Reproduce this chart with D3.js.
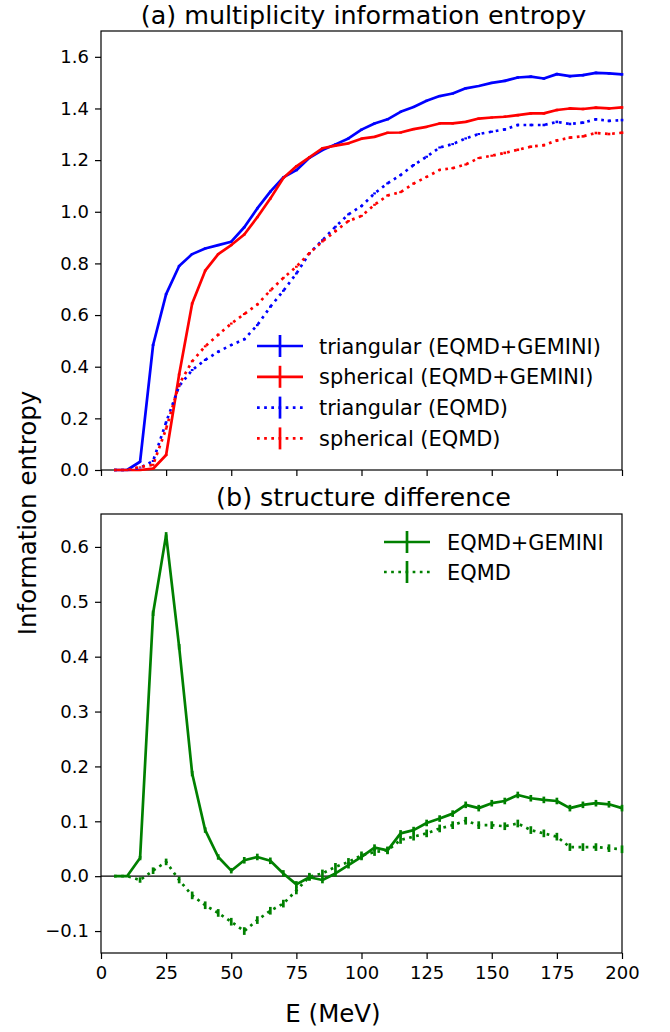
<!DOCTYPE html>
<html>
<head>
<meta charset="utf-8">
<script src="https://cdn.jsdelivr.net/npm/d3@7"></script>
<style>
  body { margin: 0; background: #fff; }
  text { font-family: "DejaVu Sans", sans-serif; fill: #000; }
</style>
</head>
<body>
<svg id="fig" width="670" height="1032"></svg>
<script>
// beam energy (MeV)
const energy = [5, 10, 15, 20, 25, 30, 35, 40, 45, 50, 55, 60, 65, 70, 75, 80, 85, 90, 95, 100,
  105, 110, 115, 120, 125, 130, 135, 140, 145, 150, 155, 160, 165, 170, 175, 180, 185, 190, 195, 200];

// (a) multiplicity information entropy
const triGemini = [0, 0, 0.032, 0.484, 0.681, 0.790, 0.836, 0.858, 0.871, 0.884, 0.940, 1.013, 1.078, 1.133, 1.161, 1.209, 1.239, 1.261, 1.284, 1.318,
  1.342, 1.358, 1.387, 1.406, 1.430, 1.448, 1.458, 1.478, 1.487, 1.499, 1.507, 1.520, 1.523, 1.516, 1.533, 1.525, 1.529, 1.538, 1.536, 1.532];
const sphGemini = [0, 0, 0, 0.005, 0.058, 0.370, 0.645, 0.772, 0.836, 0.871, 0.912, 0.979, 1.051, 1.131, 1.176, 1.211, 1.246, 1.256, 1.265, 1.283,
  1.290, 1.306, 1.307, 1.320, 1.329, 1.342, 1.342, 1.348, 1.361, 1.365, 1.368, 1.374, 1.381, 1.381, 1.394, 1.400, 1.398, 1.403, 1.400, 1.404];
const triEqmd = [0, 0, 0.008, 0.035, 0.185, 0.325, 0.387, 0.426, 0.458, 0.484, 0.506, 0.561, 0.632, 0.694, 0.761, 0.839, 0.890, 0.942, 0.990, 1.022,
  1.071, 1.110, 1.142, 1.181, 1.213, 1.249, 1.262, 1.284, 1.301, 1.310, 1.319, 1.336, 1.336, 1.336, 1.348, 1.340, 1.345, 1.358, 1.352, 1.355];
const sphEqmd = [0, 0, 0.012, 0.020, 0.160, 0.332, 0.421, 0.479, 0.524, 0.567, 0.604, 0.641, 0.695, 0.744, 0.787, 0.840, 0.885, 0.925, 0.964, 0.984,
  1.027, 1.063, 1.076, 1.109, 1.135, 1.162, 1.169, 1.183, 1.208, 1.217, 1.228, 1.240, 1.252, 1.258, 1.276, 1.287, 1.292, 1.305, 1.301, 1.306];
const entropyErr = [0, 0, 0.002, 0.004, 0.004, 0.004, 0.004, 0.004, 0.004, 0.004, 0.004, 0.004, 0.004, 0.004, 0.004, 0.004, 0.004, 0.004, 0.004, 0.004,
  0.004, 0.004, 0.004, 0.004, 0.004, 0.004, 0.004, 0.004, 0.004, 0.004, 0.005, 0.005, 0.005, 0.005, 0.005, 0.005, 0.005, 0.005, 0.005, 0.005];

// (b) structure difference (triangular - spherical)
const diffGemini = [0, 0, 0.033, 0.479, 0.622, 0.418, 0.187, 0.084, 0.035, 0.010, 0.029, 0.035, 0.028, 0.005, -0.015, -0.002, -0.007, 0.005, 0.020, 0.035,
  0.052, 0.047, 0.078, 0.084, 0.097, 0.105, 0.114, 0.130, 0.124, 0.133, 0.137, 0.148, 0.142, 0.139, 0.137, 0.124, 0.130, 0.133, 0.131, 0.124];
const diffEqmd = [0, 0, -0.007, 0.010, 0.026, -0.007, -0.035, -0.053, -0.067, -0.083, -0.100, -0.080, -0.063, -0.050, -0.026, -0.001, 0.005, 0.017, 0.026, 0.038,
  0.044, 0.047, 0.066, 0.072, 0.078, 0.087, 0.093, 0.101, 0.093, 0.093, 0.091, 0.096, 0.084, 0.078, 0.072, 0.053, 0.053, 0.053, 0.051, 0.049];
const diffGeminiErr = [0, 0, 0.004, 0.005, 0.005, 0.005, 0.005, 0.005, 0.005, 0.005, 0.006, 0.006, 0.006, 0.006, 0.006, 0.006, 0.006, 0.006, 0.006, 0.006,
  0.006, 0.006, 0.006, 0.006, 0.006, 0.006, 0.006, 0.006, 0.006, 0.006, 0.006, 0.006, 0.006, 0.006, 0.006, 0.006, 0.006, 0.006, 0.006, 0.006];
const diffEqmdErr = [0, 0, 0.005, 0.006, 0.006, 0.006, 0.007, 0.007, 0.007, 0.007, 0.007, 0.007, 0.007, 0.007, 0.007, 0.007, 0.007, 0.007, 0.007, 0.007,
  0.007, 0.007, 0.007, 0.007, 0.007, 0.007, 0.007, 0.007, 0.007, 0.007, 0.007, 0.007, 0.007, 0.007, 0.007, 0.007, 0.007, 0.007, 0.007, 0.007];

const xTicks = [0, 25, 50, 75, 100, 125, 150, 175, 200];
const entropyTicks = [0, 0.2, 0.4, 0.6, 0.8, 1.0, 1.2, 1.4, 1.6];
const diffTicks = [-0.1, 0, 0.1, 0.2, 0.3, 0.4, 0.5, 0.6];

const svg = d3.select("#fig");
const left = 101, right = 622;
const lw = 2.7;
const dotted = `${lw},${(lw * 1.65).toFixed(2)}`;

const x = d3.scaleLinear().domain([0, 200]).range([left, right]);
const yTop = d3.scaleLinear().domain([0, 1.7]).range([470, 31]);
const yBot = d3.scaleLinear().domain([-0.14, 0.66]).range([953, 514]);

const fmtTick = v => (v < 0 ? "\u2212" : "") + Math.abs(v).toFixed(1);

// axes, ticks and frame for one panel
let drawFrame = (y, yTicks, showX) => {
  const [y1, y0] = y.range();
  const g = svg.append("g");

  g.append("g")
    .attr("transform", `translate(${left},0)`)
    .call(d3.axisLeft(y).tickValues(yTicks).tickFormat(fmtTick).tickSize(6).tickPadding(6))
    .call(a => a.select(".domain").remove())
    .call(a => a.selectAll("line").attr("stroke", "#000").attr("stroke-width", 1.2))
    .call(a => a.selectAll("text").style("font-size", "18px").attr("fill", "#000"));

  g.append("g")
    .attr("transform", `translate(0,${y1})`)
    .call(d3.axisBottom(x).tickValues(xTicks).tickFormat(showX ? d3.format("d") : "").tickSize(6).tickPadding(7))
    .call(a => a.select(".domain").remove())
    .call(a => a.selectAll("line").attr("stroke", "#000").attr("stroke-width", 1.2))
    .call(a => a.selectAll("text").style("font-size", "18px").attr("fill", "#000"));

  g.append("rect")
    .attr("x", left).attr("y", y0)
    .attr("width", right - left).attr("height", y1 - y0)
    .attr("fill", "none").attr("stroke", "#000").attr("stroke-width", 1.2);
};

// errorbar series: line + vertical error segments
let drawSeries = (layer, y, vals, errs, color, dash) => {
  const pts = energy.map((e, i) => ({ e, v: vals[i], err: errs[i] }));
  const line = d3.line().x(d => x(d.e)).y(d => y(d.v));
  layer.append("path")
    .datum(pts)
    .attr("d", line)
    .attr("fill", "none")
    .attr("stroke", color)
    .attr("stroke-width", lw)
    .attr("stroke-dasharray", dash)
    .attr("stroke-linejoin", "round");
  layer.selectAll(null)
    .data(pts.filter(d => d.err > 0))
    .enter()
    .append("line")
    .attr("x1", d => x(d.e)).attr("x2", d => x(d.e))
    .attr("y1", d => y(d.v - d.err)).attr("y2", d => y(d.v + d.err))
    .attr("stroke", color)
    .attr("stroke-width", lw);
};

let drawLegend = (entries, lx, ly, gap, textX) => {
  const g = svg.append("g");
  entries.forEach((d, i) => {
    const cy = ly + i * gap;
    g.append("line")
      .attr("x1", lx).attr("x2", lx + 46).attr("y1", cy).attr("y2", cy)
      .attr("stroke", d.color).attr("stroke-width", lw)
      .attr("stroke-dasharray", d.dash);
    g.append("line")
      .attr("x1", lx + 23).attr("x2", lx + 23).attr("y1", cy - 11).attr("y2", cy + 11)
      .attr("stroke", d.color).attr("stroke-width", lw);
    g.append("text")
      .attr("x", textX).attr("y", cy)
      .attr("dy", "0.36em")
      .style("font-size", "20.9px")
      .text(d.label);
  });
};

// panel (a)
drawFrame(yTop, entropyTicks, false);
const topLayer = svg.append("g");
drawSeries(topLayer, yTop, triGemini, entropyErr, "#0000ff", null);
drawSeries(topLayer, yTop, sphGemini, entropyErr, "#ff0000", null);
drawSeries(topLayer, yTop, triEqmd, entropyErr, "#0000ff", dotted);
drawSeries(topLayer, yTop, sphEqmd, entropyErr, "#ff0000", dotted);
svg.append("text")
  .attr("x", (left + right) / 2 + 2).attr("y", 24)
  .attr("text-anchor", "middle")
  .style("font-size", "25.4px")
  .text("(a) multiplicity information entropy");
drawLegend([
  { label: "triangular (EQMD+GEMINI)", color: "#0000ff", dash: null },
  { label: "spherical (EQMD+GEMINI)", color: "#ff0000", dash: null },
  { label: "triangular (EQMD)", color: "#0000ff", dash: dotted },
  { label: "spherical (EQMD)", color: "#ff0000", dash: dotted }
], 257, 346, 30.8, 319);

// panel (b)
drawFrame(yBot, diffTicks, true);
svg.append("line")
  .attr("x1", left).attr("x2", right)
  .attr("y1", yBot(0)).attr("y2", yBot(0))
  .attr("stroke", "#000").attr("stroke-width", 1.2);
const botLayer = svg.append("g");
drawSeries(botLayer, yBot, diffGemini, diffGeminiErr, "#008000", null);
drawSeries(botLayer, yBot, diffEqmd, diffEqmdErr, "#008000", dotted);
svg.append("text")
  .attr("x", (left + right) / 2 + 2).attr("y", 506)
  .attr("text-anchor", "middle")
  .style("font-size", "25.4px")
  .text("(b) structure difference");
drawLegend([
  { label: "EQMD+GEMINI", color: "#008000", dash: null },
  { label: "EQMD", color: "#008000", dash: dotted }
], 384, 542, 30, 447);

// shared axis labels
svg.append("text")
  .attr("x", 333).attr("y", 1022)
  .attr("text-anchor", "middle")
  .style("font-size", "24.5px")
  .text("E (MeV)");
svg.append("text")
  .attr("transform", "translate(36,513) rotate(-90)")
  .attr("text-anchor", "middle")
  .style("font-size", "24.5px")
  .text("Information entropy");
</script>
</body>
</html>
